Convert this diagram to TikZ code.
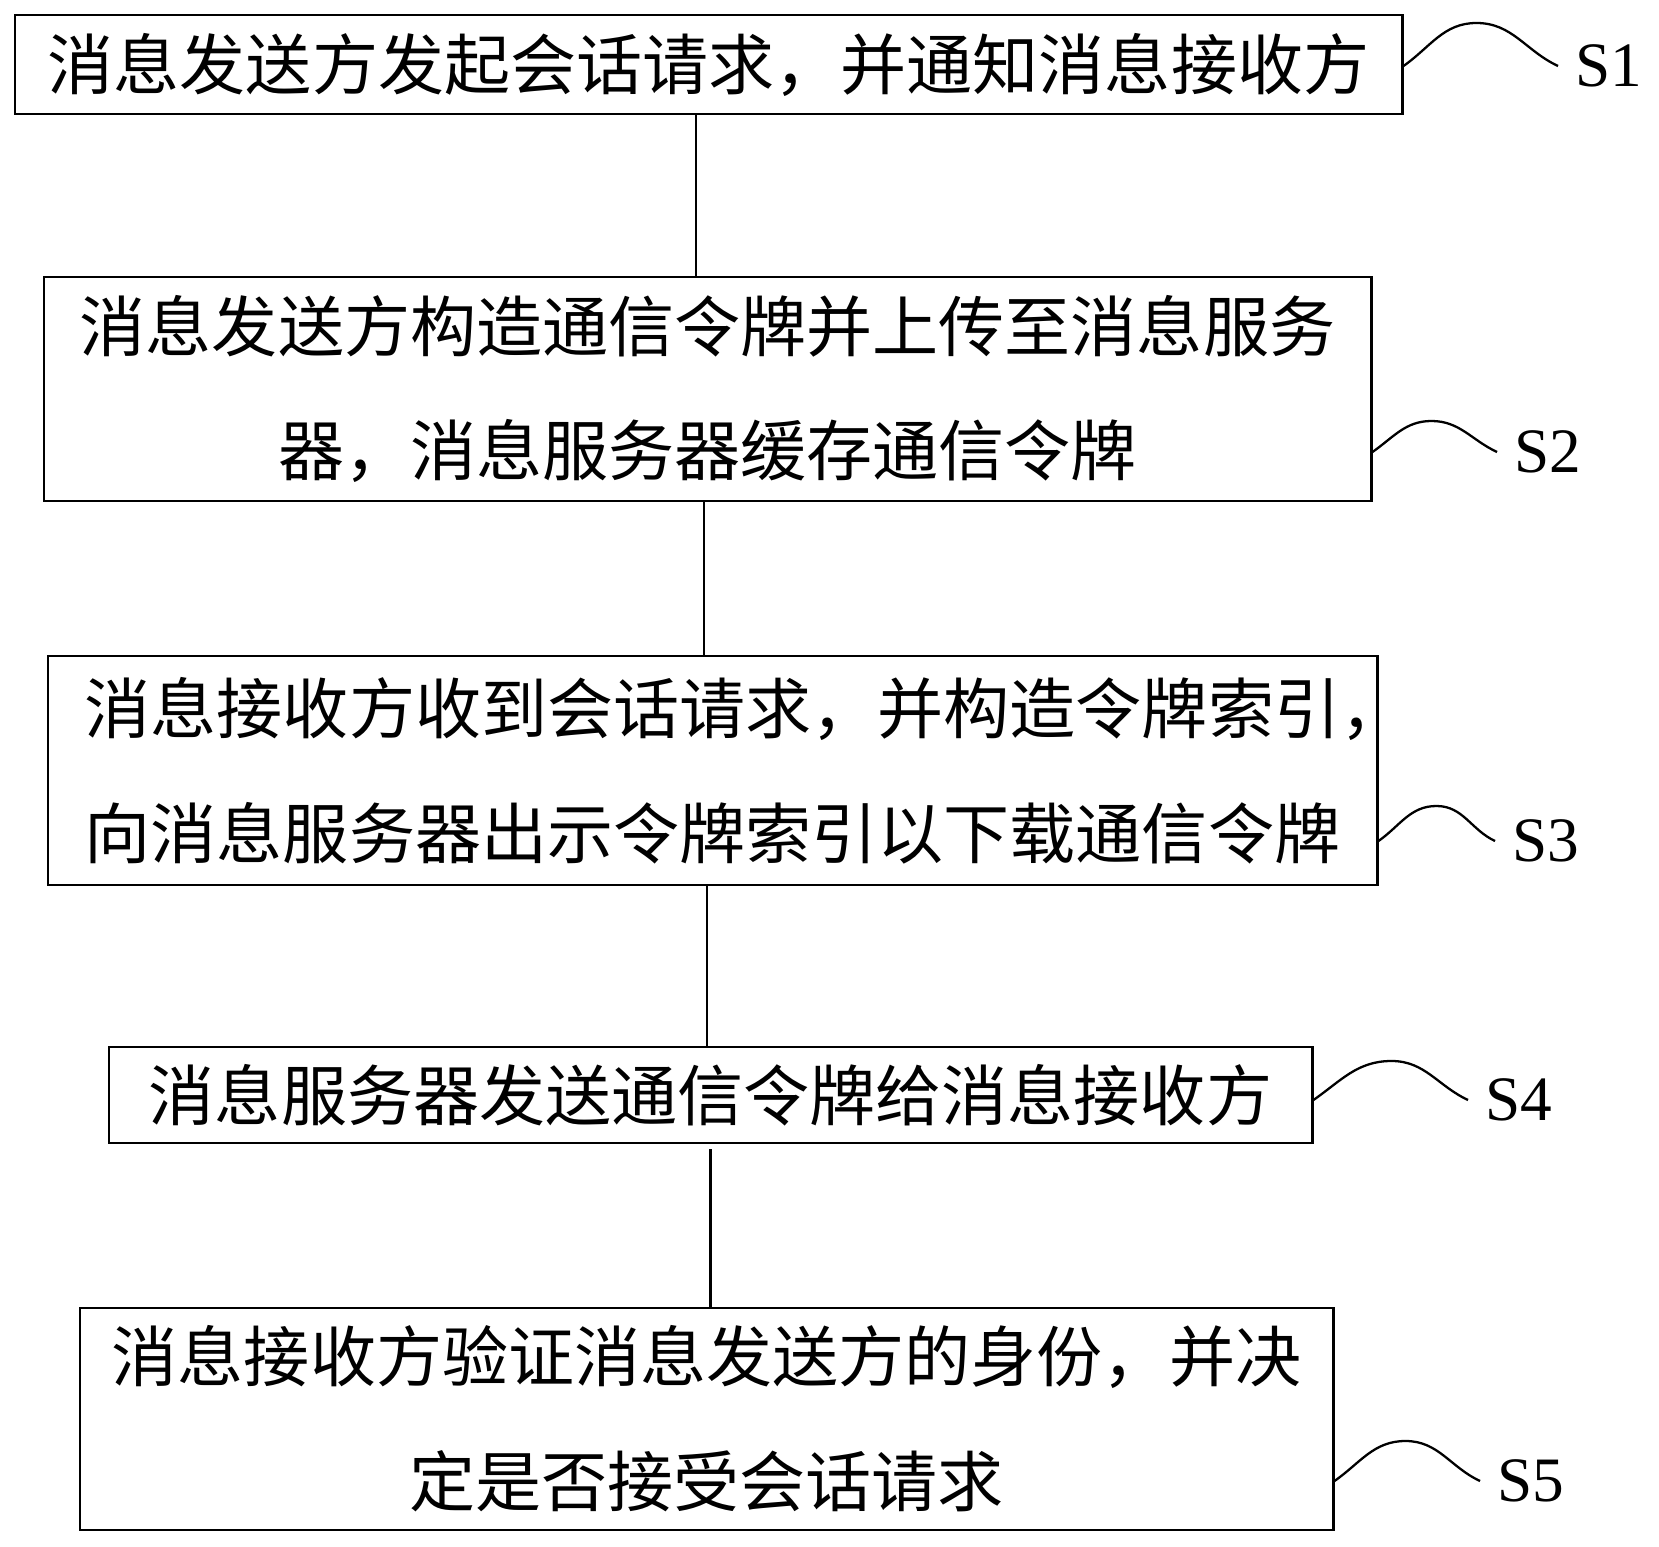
\documentclass[tikz,border=0pt]{standalone}
\usepackage{fontspec}
\setmainfont{Liberation Serif}
\newfontfamily\cjk{Noto Sans CJK SC}
\usetikzlibrary{positioning}

\begin{document}
\begin{tikzpicture}[
    stepbox/.style={draw,line width=0.85pt,inner sep=0pt,align=center,font=\cjk\fontsize{18.8pt}{35.5pt}\selectfont},
    steplabel/.style={anchor=west,inner sep=0.17cm,font=\fontsize{18pt}{20pt}\selectfont},
    lead/.style={line width=0.65pt}]
    \useasboundingbox (0,0) rectangle (16.59,15.46);
    % steps
    \node[stepbox,minimum width=13.87cm,minimum height=0.99cm] (s1) at (7.085,14.815) {消息发送方发起会话请求，并通知消息接收方};
    \node[stepbox,minimum width=13.27cm,minimum height=2.24cm] (s2) at (7.075,11.57) {消息发送方构造通信令牌并上传至消息服务\\器，消息服务器缓存通信令牌};
    \node[stepbox,align=left,text width=12.555cm,minimum width=13.29cm,minimum height=2.29cm] (s3) at (7.125,7.755) {消息接收方收到会话请求，并构造令牌索引，\\向消息服务器出示令牌索引以下载通信令牌};
    \node[stepbox,minimum width=12.03cm,minimum height=0.96cm] (s4) at (7.105,4.51) {消息服务器发送通信令牌给消息接收方};
    \node[stepbox,minimum width=12.53cm,minimum height=2.22cm] (s5) at (7.065,1.27) {消息接收方验证消息发送方的身份，并决\\定是否接受会话请求};
    % step labels
    \node[steplabel] (lab1) at (15.58,14.80) {S1};
    \node[steplabel] (lab2) at (14.97,10.94) {S2};
    \node[steplabel] (lab3) at (14.95,7.05) {S3};
    \node[steplabel] (lab4) at (14.68,4.46) {S4};
    \node[steplabel] (lab5) at (14.80,0.65) {S5};
    % flow lines
    \draw[lead] ([xshift=-0.125cm]s1.south) -- ([xshift=-0.125cm]s1.south |- s2.north);
    \draw[lead] ([xshift=-0.035cm]s2.south) -- ([xshift=-0.035cm]s2.south |- s3.north);
    \draw[lead] ([xshift=-0.055cm]s3.south) -- ([xshift=-0.055cm]s3.south |- s4.north);
    \draw[lead] ([yshift=-0.05cm]s4.south) -- (s4.south |- s5.north);
    % leader curves
    \draw[lead] (s1.east |- lab1.west) to[out=35,in=180] ++(0.73,0.43) to[out=0,in=155] (lab1.west);
    \draw[lead] (s2.east |- lab2.west) to[out=35,in=180] ++(0.59,0.31) to[out=0,in=155] (lab2.west);
    \draw[lead] (s3.east |- lab3.west) to[out=35,in=180] ++(0.58,0.35) to[out=0,in=155] (lab3.west);
    \draw[lead] (s4.east |- lab4.west) to[out=35,in=180] ++(0.78,0.39) to[out=0,in=155] (lab4.west);
    \draw[lead] (s5.east |- lab5.west) to[out=35,in=180] ++(0.71,0.40) to[out=0,in=155] (lab5.west);
\end{tikzpicture}
\end{document}
